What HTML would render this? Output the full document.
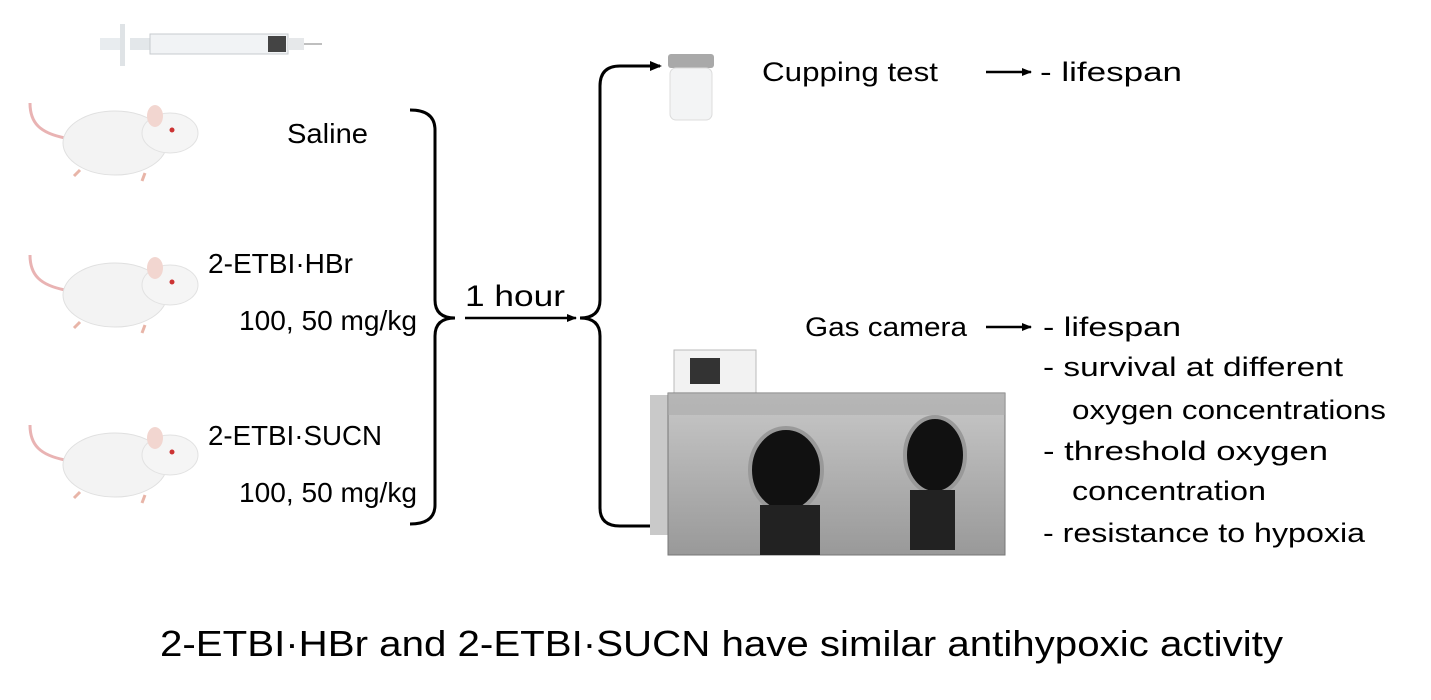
<!DOCTYPE html>
<html><head><meta charset="utf-8"><style>
html,body{margin:0;padding:0;background:#fff;}
svg{display:block;}
text{font-family:"Liberation Sans",sans-serif;fill:#000;}
</style></head><body>
<svg width="1431" height="700" viewBox="0 0 1431 700" xmlns="http://www.w3.org/2000/svg">
<defs>
<marker id="ah" markerWidth="10" markerHeight="10" refX="9" refY="5" orient="auto" markerUnits="userSpaceOnUse"><path d="M0,1 L10,5 L0,9 Z" fill="#000"/></marker>
<linearGradient id="gl" x1="0" y1="0" x2="0" y2="1"><stop offset="0" stop-color="#c8c8c8"/><stop offset="1" stop-color="#999"/></linearGradient>
<g id="mouse">
<path d="M45,40 C20,35 10,25 10,5" stroke="#e9b3b3" stroke-width="3" fill="none"/>
<ellipse cx="95" cy="45" rx="52" ry="32" fill="#f3f3f3" stroke="#e0e0e0"/>
<ellipse cx="150" cy="35" rx="28" ry="20" fill="#f5f5f5" stroke="#e2e2e2"/>
<ellipse cx="135" cy="18" rx="8" ry="11" fill="#f2d6d0"/>
<circle cx="152" cy="32" r="2.5" fill="#c33"/>
<path d="M60,72 l-6,6 M125,75 l-3,8" stroke="#e8b5a8" stroke-width="3"/>
</g>
</defs>
<rect x="100" y="38" width="20" height="12" fill="#e8ecef"/>
<rect x="120" y="24" width="5" height="42" fill="#dfe3e6"/>
<rect x="130" y="38" width="20" height="12" fill="#e3e7ea"/>
<rect x="150" y="34" width="138" height="20" fill="#f1f3f5" stroke="#c7cbcf"/>
<rect x="268" y="36" width="18" height="16" fill="#444"/>
<rect x="288" y="38" width="16" height="12" fill="#e6e8ea"/>
<line x1="304" y1="44" x2="322" y2="44" stroke="#aaa" stroke-width="1.5"/>
<use href="#mouse" x="20" y="98"/>
<use href="#mouse" x="20" y="250"/>
<use href="#mouse" x="20" y="420"/>
<text x="287" y="143" font-size="28" textLength="81" lengthAdjust="spacingAndGlyphs">Saline</text>
<text x="208" y="273" font-size="28" textLength="145" lengthAdjust="spacingAndGlyphs">2-ETBI·HBr</text>
<text x="239" y="330" font-size="28" textLength="178" lengthAdjust="spacingAndGlyphs">100, 50 mg/kg</text>
<text x="208" y="445" font-size="28" textLength="174" lengthAdjust="spacingAndGlyphs">2-ETBI·SUCN</text>
<text x="239" y="502" font-size="28" textLength="178" lengthAdjust="spacingAndGlyphs">100, 50 mg/kg</text>
<path d="M410,110 Q435,110 435,130 L435,300 Q435,318 455,318 Q435,318 435,336 L435,505 Q435,524 410,524" fill="none" stroke="#000" stroke-width="3"/>
<text x="465" y="306" font-size="30" textLength="100" lengthAdjust="spacingAndGlyphs">1 hour</text>
<line x1="465" y1="318" x2="576" y2="318" stroke="#000" stroke-width="2.5" marker-end="url(#ah)"/>
<path d="M660,66 L620,66 Q600,66 600,86 L600,300 Q600,318 580,318 Q600,318 600,336 L600,508 Q600,526 620,526 L660,526" fill="none" stroke="#000" stroke-width="3"/>
<path d="M650,61 L662,66 L650,71 Z" fill="#000"/>
<path d="M650,521 L662,526 L650,531 Z" fill="#000"/>
<rect x="668" y="54" width="46" height="14" rx="3" fill="#a9a9a9"/>
<rect x="670" y="68" width="42" height="52" rx="6" fill="#f3f4f5" stroke="#dcdcdc"/>
<text x="762" y="81" font-size="27" textLength="176" lengthAdjust="spacingAndGlyphs">Cupping test</text>
<line x1="986" y1="72" x2="1031" y2="72" stroke="#000" stroke-width="2.5" marker-end="url(#ah)"/>
<text x="1040" y="81" font-size="27" textLength="142" lengthAdjust="spacingAndGlyphs">-  lifespan</text>
<text x="805" y="336" font-size="27" textLength="162" lengthAdjust="spacingAndGlyphs">Gas camera</text>
<line x1="986" y1="327" x2="1031" y2="327" stroke="#000" stroke-width="2.5" marker-end="url(#ah)"/>
<g font-size="27">
<text x="1043" y="336" textLength="138" lengthAdjust="spacingAndGlyphs">-  lifespan</text>
<text x="1043" y="376" textLength="300" lengthAdjust="spacingAndGlyphs">-  survival at different</text>
<text x="1072" y="419" textLength="314" lengthAdjust="spacingAndGlyphs">oxygen concentrations</text>
<text x="1043" y="460" textLength="285" lengthAdjust="spacingAndGlyphs">-   threshold  oxygen</text>
<text x="1072" y="500" textLength="194" lengthAdjust="spacingAndGlyphs">concentration</text>
<text x="1043" y="542" textLength="322" lengthAdjust="spacingAndGlyphs">-  resistance to hypoxia</text>
</g>
<rect x="674" y="350" width="82" height="50" fill="#f2f2f2" stroke="#bbb"/>
<rect x="690" y="358" width="30" height="26" fill="#333"/>
<rect x="650" y="395" width="20" height="140" fill="#c9c9c9"/>
<rect x="668" y="393" width="337" height="162" fill="url(#gl)" stroke="#777"/>
<rect x="668" y="393" width="337" height="22" fill="#aaa" opacity=".6"/>
<ellipse cx="786" cy="470" rx="36" ry="42" fill="#111" stroke="#999" stroke-width="4"/>
<ellipse cx="935" cy="455" rx="30" ry="38" fill="#111" stroke="#999" stroke-width="4"/>
<rect x="760" y="505" width="60" height="50" fill="#222"/>
<rect x="910" y="490" width="45" height="60" fill="#222"/>
<text x="160" y="656" font-size="36" textLength="1123" lengthAdjust="spacingAndGlyphs">2-ETBI·HBr and 2-ETBI·SUCN have similar antihypoxic activity</text>
</svg>
</body></html>
